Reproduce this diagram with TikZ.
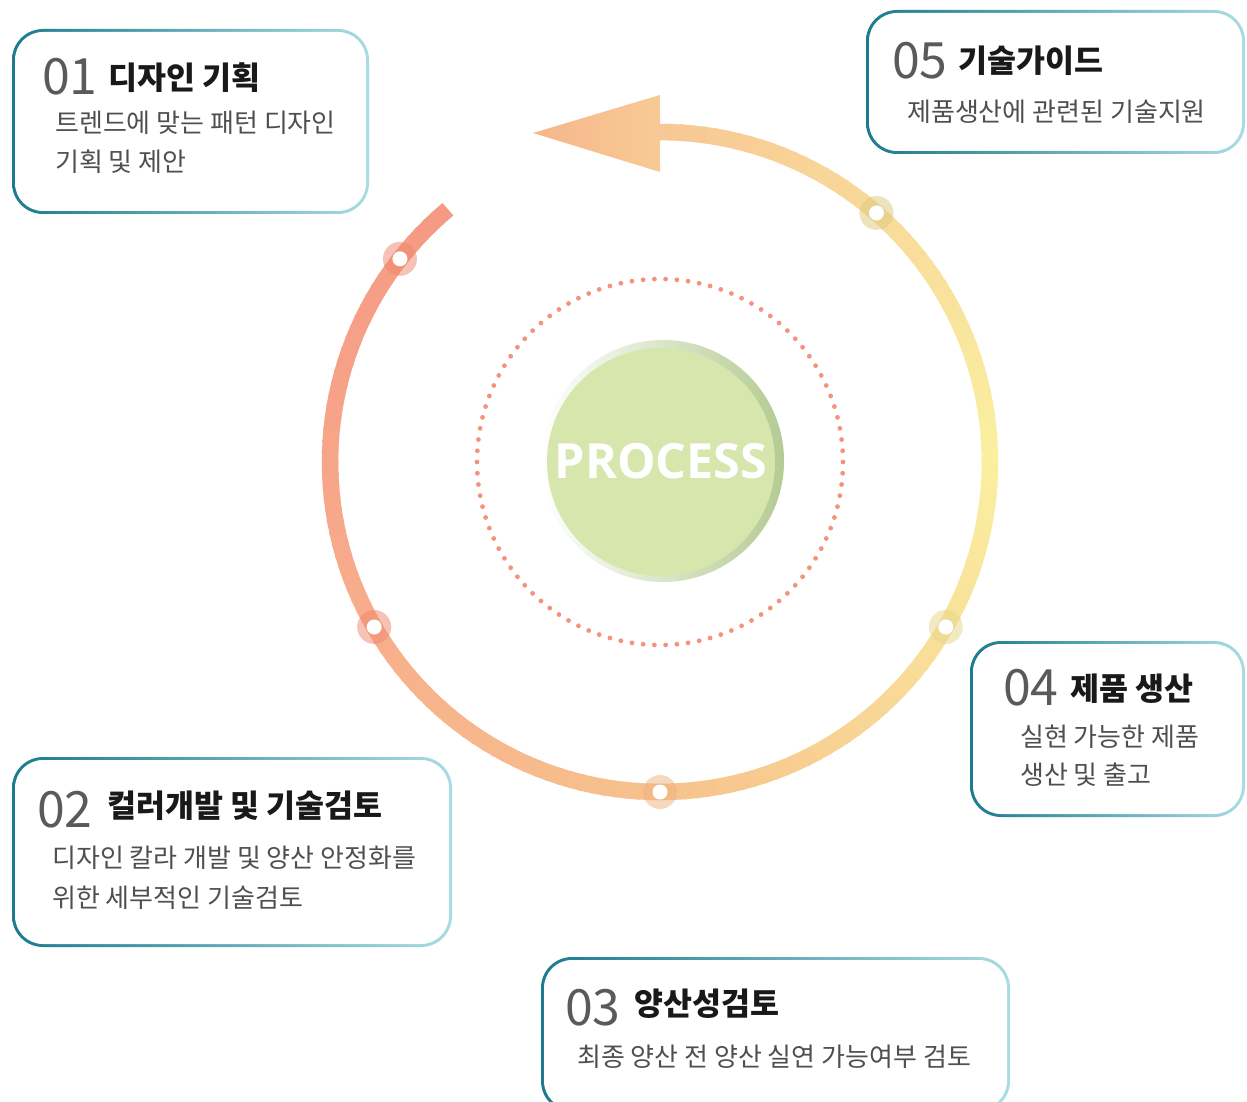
\documentclass[tikz,border=0pt]{standalone}
\usepackage{fontspec}
\setmainfont{Noto Sans CJK KR}
\newfontfamily\procfont{Open Sans}
\usetikzlibrary{calc}

\definecolor{tealdark}{HTML}{1B7B8D}
\definecolor{teallight}{HTML}{A9DCE3}
\definecolor{numgray}{HTML}{5A5A5A}
\definecolor{subgray}{HTML}{4F4F4F}
\definecolor{ringA}{HTML}{F59A83}
\definecolor{ringB}{HTML}{F7A58A}
\definecolor{ringC}{HTML}{F7C28D}
\definecolor{ringD}{HTML}{FAF0A0}
\definecolor{ringE}{HTML}{F7C794}
\definecolor{mkA}{HTML}{EF876C}
\definecolor{mkB}{HTML}{EFB27E}
\definecolor{mkC}{HTML}{E6D78A}
\definecolor{mkD}{HTML}{DCCB7E}
\definecolor{dotsal}{HTML}{F4937A}
\definecolor{greenfill}{HTML}{D6E6AD}
\definecolor{greenrim}{HTML}{B4CB92}
\definecolor{arrowtip}{HTML}{F6B68A}
\definecolor{arrowbase}{HTML}{F7CA95}

\tikzset{
  num/.style={anchor=base west, text=numgray, inner sep=0pt, font=\fontsize{50}{50}\selectfont},
  ttl/.style={anchor=base west, text=black!90, inner sep=0pt, font=\fontsize{31.5}{33}\selectfont\bfseries},
  sub/.style={anchor=base west, text=subgray, inner sep=0pt, font=\fontsize{26}{28}\selectfont},
  ringseg/.style={line width=16.5pt},
  marker/.style={circle, minimum size=34pt, inner sep=0pt, fill opacity=0.5},
  hole/.style={circle, fill=white, minimum size=15pt, inner sep=0pt},
}

% card with a teal-to-light border
\newcommand{\cardframe}[4]{%
  \shade[left color=tealdark, right color=teallight, rounded corners=31pt] (#1,#2) rectangle (#3,#4);
  \fill[white, rounded corners=28pt] ($(#1,#2)+(3,3)$) rectangle ($(#3,#4)+(-3,-3)$);}

\begin{document}
\begin{tikzpicture}[x=1pt,y=-1pt]
  \clip (0,0) rectangle (1247,1102);
  \fill[white] (0,0) rectangle (1247,1102);

  % ring
  \begin{scope}[shift={(660,462)}]
    \foreach \s/\e/\ca/\cb in {130/180/ringA/ringB, 180/270/ringB/ringC, 270/360/ringC/ringD, 360/450/ringD/ringE}{
      \pgfmathtruncatemacro{\sA}{\s+2}
      \pgfmathtruncatemacro{\eA}{\e-2}
      \foreach \m in {\s,\sA,...,\eA}{
        \pgfmathtruncatemacro{\p}{100*(\e-\m)/(\e-\s)}
        \draw[ringseg, color=\ca!\p!\cb] (-\m:330) -- (-\m-2.6:330);
      }
    }
    % dotted circle
    \foreach \k in {0,...,101}
      \fill[dotsal] (360/102*\k:183) circle (2.4);
    % markers
    \foreach \m/\mc [count=\i] in {142/mkA, 210/mkA, 270/mkB, 330/mkC, 409/mkD}{
      \node[marker, fill=\mc] (mk\i) at (-\m:330) {};
      \node[hole] (hl\i) at (mk\i) {};
    }
  \end{scope}

  % arrow head
  \shade[left color=arrowtip, right color=arrowbase] (533,133) -- (660,95) -- (660,172) -- cycle;

  % centre disc
  \shade[left color=white, right color=greenrim] (663,461) circle (121);
  \fill[greenfill] (661,462) circle (114);
  \node[text=white, font=\procfont\bfseries\fontsize{48.5}{48.5}\selectfont] (proc) at (661,461) {PROCESS};

  % 01
  \cardframe{12}{29}{369}{214}
  \node[num] (n01) at (42,95) {01};
  \node[ttl] (t01) at (108,90) {디자인 기획};
  \node[sub] (s01a) at (55,133) {트렌드에 맞는 패턴 디자인};
  \node[sub] (s01b) at (55,172) {기획 및 제안};

  % 05
  \cardframe{866}{10}{1245}{154}
  \node[num] (n05) at (892,79) {05};
  \node[ttl] (t05) at (958,73) {기술가이드};
  \node[sub] (s05) at (907,122) {제품생산에 관련된 기술지원};

  % 04
  \cardframe{970}{641}{1245}{817}
  \node[num] (n04) at (1003,705) {04};
  \node[ttl] (t04) at (1070,700) {제품 생산};
  \node[sub] (s04a) at (1020,746) {실현 가능한 제품};
  \node[sub] (s04b) at (1020,784) {생산 및 출고};

  % 02
  \cardframe{12}{757}{452}{947}
  \node[num] (n02) at (37,827) {02};
  \node[ttl] (t02) at (107,817) {컬러개발 및 기술검토};
  \node[sub] (s02a) at (52,867) {디자인 칼라 개발 및 양산 안정화를};
  \node[sub] (s02b) at (52,907) {위한 세부적인 기술검토};

  % 03
  \cardframe{541}{957}{1010}{1112}
  \node[num] (n03) at (565,1025) {03};
  \node[ttl] (t03) at (634,1015) {양산성검토};
  \node[sub] (s03) at (577,1066) {최종 양산 전 양산 실연 가능여부 검토};
\end{tikzpicture}
\end{document}
